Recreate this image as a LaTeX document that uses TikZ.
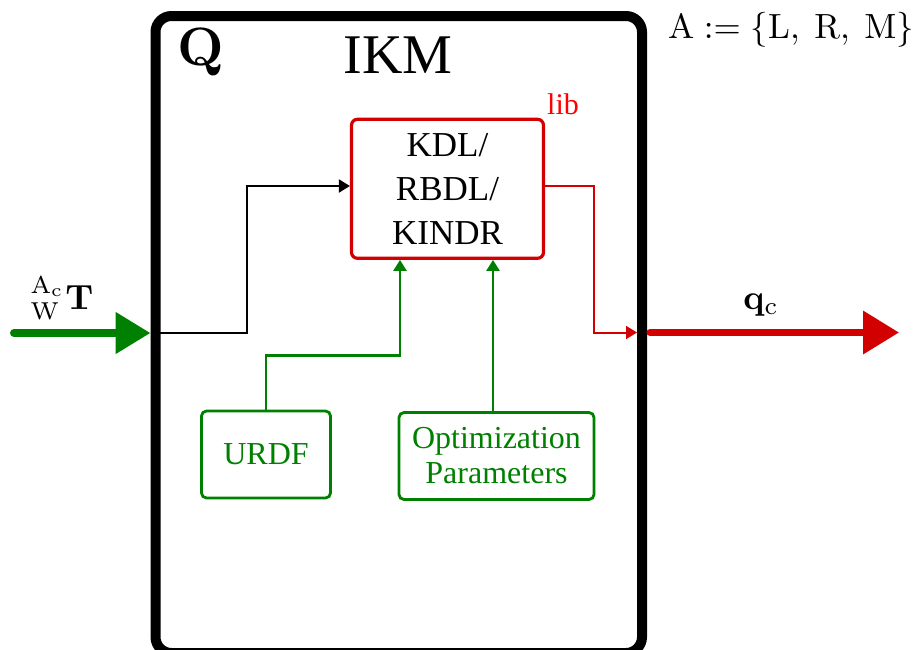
\documentclass[tikz,border=0pt]{standalone}
\usepackage{amsmath}
\usepackage[no-math]{fontspec}
\setmainfont{Liberation Serif}
\usetikzlibrary{calc, positioning, arrows.meta}
\definecolor{libred}{RGB}{210,0,0}
\definecolor{cfggreen}{RGB}{0,128,0}

\begin{document}
\begin{tikzpicture}
		[x=0.5pt, y=-0.5pt,
		ikmbox/.style={draw, line width=5pt, rounded corners=8pt, outer sep=0pt, minimum width=243.25pt, minimum height=318.5pt},
		libbox/.style={draw=libred, line width=1.6pt, rounded corners=3pt, minimum width=96pt, minimum height=69.5pt, align=center, font=\fontsize{17.5}{22}\selectfont},
		cfgbox/.style={draw=cfggreen, text=cfggreen, line width=1.4pt, rounded corners=2.5pt, minimum height=43.5pt, align=center, font=\fontsize{16}{17.5}\selectfont},
		flowarrow/.style={line width=1pt, -{Triangle[length=5.5pt, width=6.5pt]}}]
		\useasboundingbox (0,0) rectangle (919,649);

		% nodes %
		\node[ikmbox] (ikm) at (398.75,334.5) {};
		\node (qname) at (201,52) {\scalebox{2.7}{$\mathbf{Q}$}};
		\node[font=\fontsize{28}{30}\selectfont] (ikmname) at (398,55) {IKM};
		\node (aset) at (791,30) {\scalebox{1.75}{$\mathrm{A} := \{\mathrm{L},\ \mathrm{R},\ \mathrm{M}\}$}};
		\node[libbox] (lib) at (447.5,188.8) {KDL/\\RBDL/\\KINDR};
		\node[text=red, font=\fontsize{15}{17}\selectfont] (libname) at (563,104) {lib};
		\node[cfgbox, minimum width=64.5pt] (urdf) at (266,454.5) {URDF};
		\node[cfgbox, minimum width=97.5pt] (opt) at (496.5,456) {Optimization\\Parameters};
		\node (tlabel) at (62,298) {\scalebox{1.75}{${}^{\mathrm{A_c}}_{\mathrm{W}}\mathbf{T}$}};
		\node (qlabel) at (761,305) {\scalebox{1.75}{$\mathbf{q}_{\mathrm{c}}$}};
		\coordinate (tin) at (14,333);
		\coordinate (tend) at ([xshift=-2.5pt]ikm.west);
		\coordinate (qstart) at ([xshift=4pt]ikm.east);
		\coordinate (qout) at (899,332.5);
		\coordinate (optup) at ([xshift=-1.75pt]opt.north);

		% edges %
		\draw[flowarrow] ([yshift=0.6pt]ikm.west) -| ([xshift=-51.5pt, yshift=1.4pt]lib.west) -- ([yshift=1.4pt]lib.west);
		\draw[flowarrow, libred] ([yshift=1.4pt]lib.east) -- ++(49,0) |- ([xshift=-2.5pt, yshift=1pt]ikm.east);
		\draw[flowarrow, cfggreen, line width=1.3pt] (urdf.north) -- ++(0,-54) -| ([xshift=-23.75pt]lib.south);
		\draw[flowarrow, cfggreen, line width=1.3pt] (optup) -- (optup |- lib.south);
		\draw[line width=4pt, cfggreen, line cap=round, -{Triangle[length=17.5pt, width=20pt]}] (tin) -- (tin -| tend);
		\draw[line width=3.5pt, libred, line cap=round, -{Triangle[length=18pt, width=21pt]}] (qstart |- qout) -- (qout);
\end{tikzpicture}
\end{document}
